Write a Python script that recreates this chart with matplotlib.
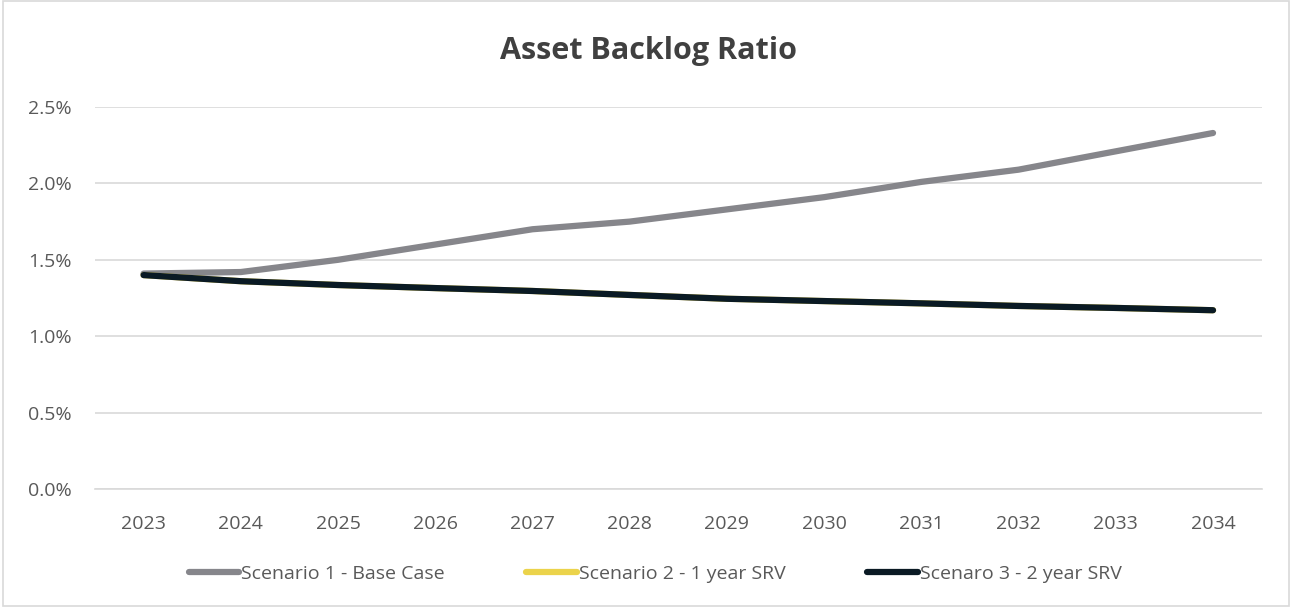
import matplotlib
matplotlib.use("Agg")
from matplotlib import pyplot as plt
from matplotlib import font_manager
from matplotlib.ticker import FuncFormatter

years = ["2023", "2024", "2025", "2026", "2027", "2028",
         "2029", "2030", "2031", "2032", "2033", "2034"]
base_case = [1.41, 1.42, 1.50, 1.60, 1.70, 1.75, 1.83, 1.91, 2.01, 2.09, 2.21, 2.33]
srv_1yr = [1.40, 1.36, 1.335, 1.315, 1.296, 1.27, 1.245, 1.23, 1.215, 1.198, 1.185, 1.17]
srv_2yr = [1.40, 1.36, 1.335, 1.315, 1.296, 1.27, 1.245, 1.23, 1.215, 1.198, 1.185, 1.17]

names = {f.name for f in font_manager.fontManager.ttflist}
FONT = "Liberation Sans Narrow" if "Liberation Sans Narrow" in names else "Open Sans"
plt.rcParams["font.family"] = [FONT, "DejaVu Sans"]

TXT = "#595959"
fig = plt.figure(figsize=(12.92, 6.07), dpi=100)
ax = fig.add_axes([0.0735, 0.1944, 0.903, 0.6293])

x = range(len(years))
ax.plot(x, base_case, color="#86868B", lw=4.5, solid_capstyle="round",
        label="Scenario 1 - Base Case", zorder=3)
ax.plot(x, srv_1yr, color="#EBD34B", lw=4.5, solid_capstyle="round",
        label="Scenario 2 - 1 year SRV", zorder=4)
ax.plot(x, srv_2yr, color="#0A1A24", lw=4.5, solid_capstyle="round",
        label="Scenaro 3 - 2 year SRV", zorder=5)

ax.set_xlim(-0.5, len(years) - 0.5)
ax.set_ylim(0, 2.5)
ax.set_yticks([0, 0.5, 1.0, 1.5, 2.0, 2.5])
ax.yaxis.set_major_formatter(FuncFormatter(lambda v, p: f"{v:.1f}%"))
ax.set_xticks(list(x))
ax.set_xticklabels(years)
ax.grid(axis="y", color="#D9D9D9", lw=1.2)
ax.set_axisbelow(True)
for s in ["left", "right", "top"]:
    ax.spines[s].set_visible(False)
ax.spines["bottom"].set_color("#D9D9D9")
ax.spines["bottom"].set_linewidth(1.2)
ax.tick_params(length=0, labelsize=14, labelcolor=TXT)
ax.tick_params(axis="x", pad=19)
ax.tick_params(axis="y", pad=17)

fig.suptitle("Asset Backlog Ratio", x=0.502, y=0.94, fontsize=22,
             fontweight="bold", color="#404040")

fig.legend(loc="center", bbox_to_anchor=(0.507, 0.054), ncol=3, frameon=False,
           fontsize=14, handlelength=2.6, handletextpad=0.1, columnspacing=4.2,
           labelcolor=TXT)

fig.patches.append(plt.Rectangle((0.002, 0.002), 0.996, 0.996, transform=fig.transFigure,
                                 fill=False, edgecolor="#D9D9D9", lw=1.2))

fig.savefig("out.png", dpi=100)
